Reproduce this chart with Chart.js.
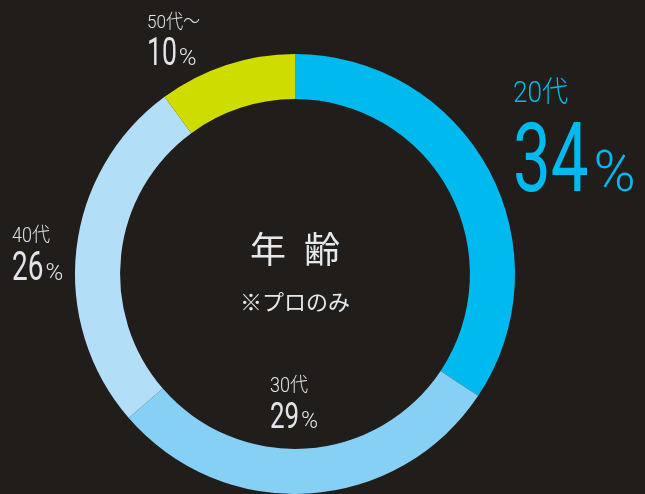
<!DOCTYPE html>
<html>
<head>
<meta charset="utf-8">
<script src="https://cdn.jsdelivr.net/npm/chart.js@4"></script>
<style>
  html, body { margin: 0; padding: 0; background: #201d1a; }
  #wrap { position: relative; width: 645px; height: 494px; overflow: hidden; }
  #chart { position: absolute; left: 0; top: 0; }
  .lbl { position: absolute; font-family: Roboto, "Noto Sans CJK JP", sans-serif; font-weight: 300;
         line-height: 1; white-space: nowrap; }
  .lbl .age { display: block; transform-origin: 0 0; }
  .lbl .val { display: flex; align-items: baseline; }
  .lbl .num { display: inline-block; transform-origin: 0 0; font-weight: 400; }
  .center { position: absolute; left: 0; width: 590px; text-align: center; color: #e6e9ec;
            font-family: "Noto Sans CJK JP", sans-serif; line-height: 1; }
</style>
</head>
<body>
<div id="wrap">
  <canvas id="chart" width="645" height="494"></canvas>
</div>
<script>
const ages = ["20代", "30代", "40代", "50代〜"];
const shares = [34, 29, 26, 10];
const colors = ["#00b9ef", "#86cff5", "#b2dff7", "#cfdc00"];

// label layout: left, top, age size, number size, percent size, gap, text colour
const labelLayout = [
  { x: 513, y: 78, age: 29, num: 96, pct: 57, gap: 5, color: "#00b9ef" },
  { x: 270, y: 375, age: 20, num: 37, pct: 23, gap: 2, color: "#e1e5ea" },
  { x: 12, y: 225, age: 20, num: 40, pct: 24, gap: 2, color: "#e1e5ea" },
  { x: 147, y: 12, age: 19, num: 38, pct: 24, gap: 2, color: "#e1e5ea" },
];
const numSqueeze = 0.7;
const ageSqueeze = 0.9;

new Chart(document.getElementById("chart"), {
  type: "doughnut",
  data: {
    labels: ages,
    datasets: [{
      data: shares,
      backgroundColor: colors,
      borderWidth: 0,
    }],
  },
  options: {
    responsive: false,
    animation: false,
    cutout: "79.5%",
    layout: { padding: { left: 75, right: 130, top: 54, bottom: 0 } },
    plugins: { legend: { display: false }, tooltip: { enabled: false } },
  },
});

const wrap = document.getElementById("wrap");
ages.forEach((age, i) => {
  const l = labelLayout[i];
  const d = document.createElement("div");
  d.className = "lbl";
  d.style.left = l.x + "px";
  d.style.top = l.y + "px";
  d.style.color = l.color;
  d.innerHTML =
    '<span class="age" style="font-size:' + l.age + 'px;margin-bottom:' + Math.round(l.age * 0.1) + 'px;transform:scaleX(' + ageSqueeze + ')">' + age + '</span>' +
    '<span class="val"><span class="num" style="font-size:' + l.num + 'px;transform:scaleX(' + numSqueeze + ')">' + shares[i] + '</span>' +
    '<span style="font-size:' + l.pct + 'px">%</span></span>';
  wrap.appendChild(d);
  const num = d.querySelector(".num");
  num.style.marginRight = (l.gap - num.offsetWidth * (1 - numSqueeze)) + "px";
});

const title = document.createElement("div");
title.className = "center";
title.style.top = "229px";
title.style.fontSize = "36px";
title.style.letterSpacing = "18px";
title.style.textIndent = "18px";
title.textContent = "年齢";
wrap.appendChild(title);

const note = document.createElement("div");
note.className = "center";
note.style.top = "289px";
note.style.fontSize = "22px";
note.textContent = "※プロのみ";
wrap.appendChild(note);
</script>
</body>
</html>
